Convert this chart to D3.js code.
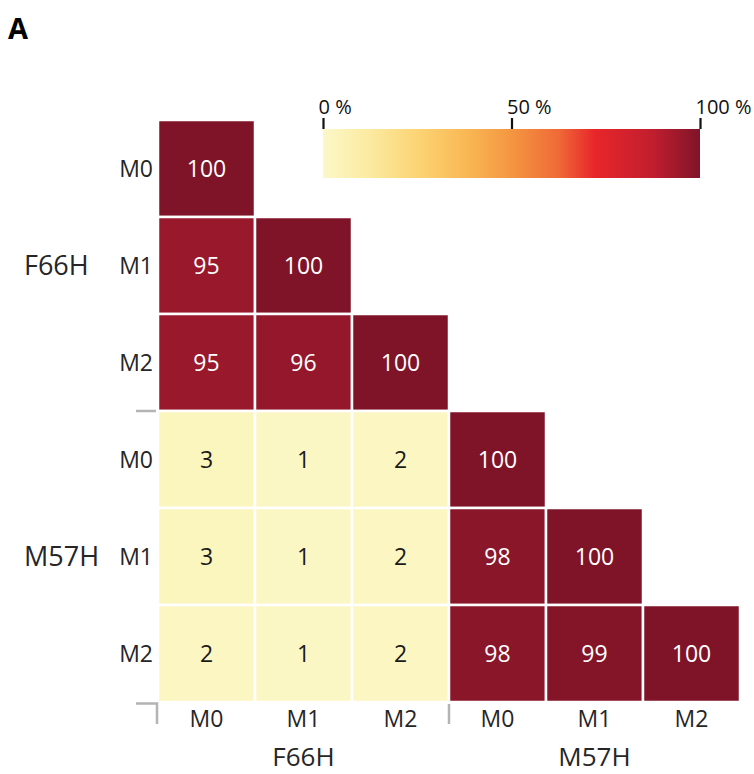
<!DOCTYPE html>
<html>
<head>
<meta charset="utf-8">
<script src="https://cdn.jsdelivr.net/npm/d3@7"></script>
<style>
	body { margin: 0; background: #fff; }
	svg { display: block; font-family: "Open Sans", sans-serif; }
</style>
</head>
<body>
<script>
(function() {

"use strict";

const GROUPS = ["F66H", "M57H"];
const SAMPLES = ["M0", "M1", "M2"];

// lower triangle, row by row (F66H M0..M2, M57H M0..M2)
const MATRIX = [
	[100],
	[95, 100],
	[95, 96, 100],
	[3, 1, 2, 100],
	[3, 1, 2, 98, 100],
	[2, 1, 2, 98, 99, 100],
];

const COLOR_STOPS = [0, 12.5, 25, 37.5, 50, 62.5, 72, 87.5, 100];
const COLOR_RANGE = ["#fbf8c8", "#fbeaa0", "#fcd475", "#f9b955", "#f49641", "#ef6a37", "#e8262a", "#c11e2e", "#7f1429"];
const LEGEND_TICKS = [0, 50, 100];

const width = 754, height = 774;
const keys = GROUPS.flatMap(g => SAMPLES.map(s => `${g} ${s}`));

const svg = d3.select("body").append("svg")
	.attr("width", width)
	.attr("height", height);

const x = d3.scaleBand().domain(keys).range([158, 740]);
const y = d3.scaleBand().domain(keys).range([120, 702]);
const color = d3.scaleLinear().domain(COLOR_STOPS).range(COLOR_RANGE).interpolate(d3.interpolateRgb);

const cells = MATRIX.flatMap((row, i) => row.map((v, j) => ({row: keys[i], col: keys[j], value: v})));

svg.append("text")
	.attr("x", 8)
	.attr("y", 39)
	.attr("font-size", 29)
	.attr("font-weight", "bold")
	.text("A");

let cell = svg.append("g").selectAll("g")
	.data(cells)
	.join("g");

cell.append("rect")
	.attr("x", d => x(d.col))
	.attr("y", d => y(d.row))
	.attr("width", x.bandwidth())
	.attr("height", y.bandwidth())
	.attr("fill", d => color(d.value))
	.attr("stroke", "#fff")
	.attr("stroke-width", 2.5);

cell.append("text")
	.attr("x", d => x(d.col) + x.bandwidth() / 2)
	.attr("y", d => y(d.row) + y.bandwidth() / 2)
	.attr("dy", "0.35em")
	.attr("text-anchor", "middle")
	.attr("font-size", 23)
	.attr("fill", d => d.value > 50 ? "#fff" : "#1a1a1a")
	.text(d => d.value);

// row labels
svg.append("g").selectAll("text")
	.data(keys)
	.join("text")
	.attr("x", 153)
	.attr("y", d => y(d) + y.bandwidth() / 2)
	.attr("dy", "0.36em")
	.attr("text-anchor", "end")
	.attr("font-size", 23)
	.attr("fill", "#262626")
	.text(d => d.split(" ")[1]);

// column labels
svg.append("g").selectAll("text")
	.data(keys)
	.join("text")
	.attr("x", d => x(d) + x.bandwidth() / 2)
	.attr("y", 727)
	.attr("text-anchor", "middle")
	.attr("font-size", 23)
	.attr("fill", "#262626")
	.text(d => d.split(" ")[1]);

// group labels
GROUPS.forEach((g, i) => {
	let mid = `${g} ${SAMPLES[1]}`;
	svg.append("text")
		.attr("x", 24)
		.attr("y", y(mid) + y.bandwidth() / 2)
		.attr("dy", "0.36em")
		.attr("font-size", 27)
		.attr("fill", "#262626")
		.text(g);
	svg.append("text")
		.attr("x", x(mid) + x.bandwidth() / 2)
		.attr("y", 766)
		.attr("text-anchor", "middle")
		.attr("font-size", 26)
		.attr("fill", "#262626")
		.text(g);
});

// group separators
const sep = svg.append("g")
	.attr("stroke", "#b4b4b4")
	.attr("stroke-width", 2.5)
	.attr("fill", "none");
const split = y(`${GROUPS[1]} ${SAMPLES[0]}`);
const splitX = x(`${GROUPS[1]} ${SAMPLES[0]}`);
sep.append("line").attr("x1", 136).attr("x2", 156).attr("y1", split).attr("y2", split);
sep.append("path").attr("d", `M136,${y.range()[1] + 1.5}H${x.range()[0] - 1}V724`);
sep.append("line").attr("x1", splitX).attr("x2", splitX).attr("y1", 704).attr("y2", 724);

// colour legend
const legend = d3.scaleLinear().domain([0, 100]).range([323, 700]);
const grad = svg.append("defs").append("linearGradient")
	.attr("id", "grad");
grad.selectAll("stop")
	.data(COLOR_STOPS)
	.join("stop")
	.attr("offset", d => d + "%")
	.attr("stop-color", d => color(d));

svg.append("rect")
	.attr("x", legend(0))
	.attr("y", 129)
	.attr("width", legend(100) - legend(0))
	.attr("height", 49)
	.attr("fill", "url(#grad)");

const axis = svg.append("g")
	.attr("transform", "translate(0,129)")
	.call(d3.axisTop(legend).tickValues(LEGEND_TICKS).tickSize(11).tickFormat(d => d + " %"));
axis.select(".domain").remove();
axis.selectAll(".tick line").attr("stroke", "#111").attr("stroke-width", 2.2);
axis.selectAll(".tick text")
	.attr("font-family", "Open Sans, sans-serif")
	.attr("font-size", 20)
	.attr("fill", "#111")
	.attr("text-anchor", "start")
	.attr("x", -5)
	.attr("y", -15);

})();
</script>
</body>
</html>
